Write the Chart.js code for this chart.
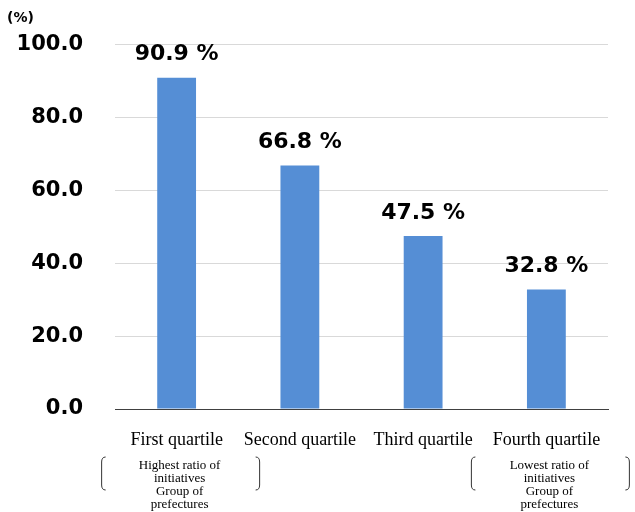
<!DOCTYPE html>
<html>
<head>
<meta charset="utf-8">
<script src="https://cdn.jsdelivr.net/npm/chart.js@4"></script>
<style>
  html, body { margin: 0; padding: 0; background: #fff; }
  #wrap { width: 635px; height: 512px; position: relative; }
</style>
</head>
<body>
<div id="wrap"><canvas id="quartileChart" width="635" height="512"></canvas></div>
<script>
const categories = ['First quartile', 'Second quartile', 'Third quartile', 'Fourth quartile'];
const ratios = [90.9, 66.8, 47.5, 32.8];
const yTicks = [0, 20, 40, 60, 80, 100];
const notes = [
  { index: 0, lines: ['Highest ratio of', 'initiatives', 'Group of', 'prefectures'] },
  { index: 3, lines: ['Lowest ratio of', 'initiatives', 'Group of', 'prefectures'] }
];

// value labels above bars + unit + bracket notes
const extras = {
  id: 'extras',
  afterDatasetsDraw(chart) {
    const ctx = chart.ctx;
    const meta = chart.getDatasetMeta(0);
    ctx.save();
    ctx.fillStyle = '#000';
    ctx.font = 'bold 22px "DejaVu Sans"';
    ctx.textAlign = 'center';
    ctx.textBaseline = 'middle';
    meta.data.forEach((bar, i) => {
      ctx.fillText(ratios[i].toFixed(1) + ' %', bar.x, bar.y - 23);
    });

    ctx.font = 'bold 14px "DejaVu Sans"';
    ctx.textAlign = 'left';
    ctx.fillText('(%)', 7, 18);

    ctx.font = '13px "Liberation Serif"';
    ctx.textAlign = 'center';
    ctx.strokeStyle = '#333';
    ctx.lineWidth = 1;
    notes.forEach(n => {
      const cx = meta.data[n.index].x + 3;
      const top = 457, bot = 490;
      const l = cx - 78, r = cx + 80;
      ctx.beginPath();
      ctx.moveTo(l + 4, top); ctx.quadraticCurveTo(l, top, l, top + 5);
      ctx.lineTo(l, bot - 5); ctx.quadraticCurveTo(l, bot, l + 4, bot);
      ctx.stroke();
      ctx.beginPath();
      ctx.moveTo(r - 4, top); ctx.quadraticCurveTo(r, top, r, top + 5);
      ctx.lineTo(r, bot - 5); ctx.quadraticCurveTo(r, bot, r - 4, bot);
      ctx.stroke();
      n.lines.forEach((t, k) => ctx.fillText(t, cx, 466 + k * 13));
    });
    ctx.restore();
  }
};

new Chart(document.getElementById('quartileChart').getContext('2d'), {
  type: 'bar',
  data: {
    labels: categories,
    datasets: [{
      data: ratios,
      backgroundColor: '#558ed5',
      categoryPercentage: 1,
      barPercentage: 0.315
    }]
  },
  options: {
    responsive: false,
    animation: false,
    layout: { padding: { top: 35, right: 27, left: 0, bottom: 0 } },
    plugins: { legend: { display: false }, tooltip: { enabled: false } },
    scales: {
      x: {
        grid: { display: false },
        border: { color: '#404040', width: 1 },
        ticks: {
          color: '#000',
          font: { family: '"Liberation Serif"', size: 18 },
          padding: 12,
          maxRotation: 0,
          autoSkip: false
        },
        afterFit(axis) { axis.height = 103; }
      },
      y: {
        min: 0,
        max: 100,
        afterBuildTicks(axis) { axis.ticks = yTicks.map(v => ({ value: v })); },
        grid: { color: '#d9d9d9', drawTicks: false },
        border: { display: false },
        ticks: {
          color: '#000',
          font: { family: '"DejaVu Sans"', size: 21, weight: 'bold' },
          padding: 32,
          callback: v => v.toFixed(1)
        },
        afterFit(axis) { axis.width = 115; }
      }
    }
  },
  plugins: [extras]
});
</script>
</body>
</html>
